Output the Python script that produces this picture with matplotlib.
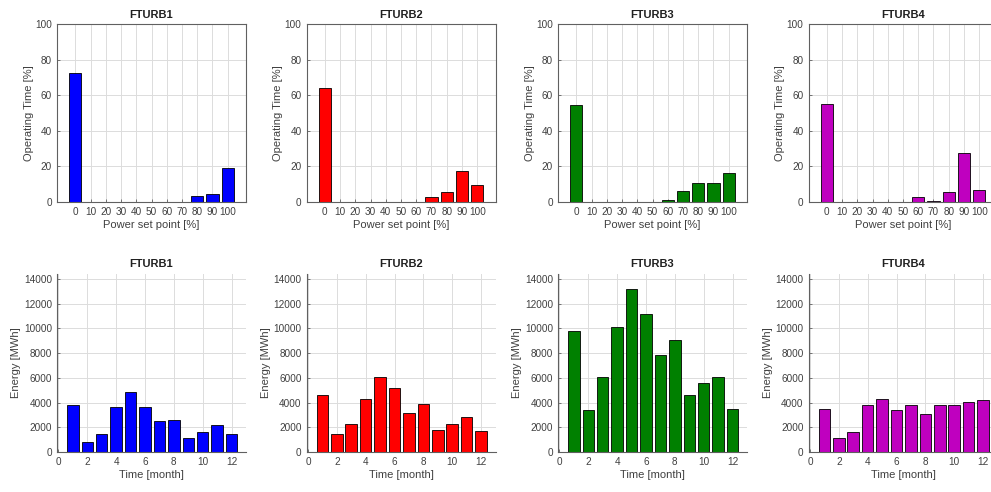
import matplotlib
matplotlib.use("Agg")
import matplotlib.pyplot as plt
import numpy as np

plt.rcParams['font.family'] = ['Liberation Sans', 'DejaVu Sans']

turbines = ["FTURB1", "FTURB2", "FTURB3", "FTURB4"]
colors = ["#0000FF", "#FF0000", "#008000", "#BF00BF"]

setpoints = [0, 10, 20, 30, 40, 50, 60, 70, 80, 90, 100]
optime_1 = [72.7, 0, 0, 0, 0, 0, 0, 0, 3.4, 4.7, 18.9]
optime_2 = [63.9, 0, 0, 0, 0, 0, 0, 3.0, 5.4, 17.4, 9.7]
optime_3 = [54.7, 0, 0, 0, 0, 0, 0.9, 6.4, 10.5, 10.5, 16.5]
optime_4 = [55.1, 0, 0, 0, 0, 0, 3.0, 0.6, 5.4, 27.7, 6.7]
optimes = [optime_1, optime_2, optime_3, optime_4]

months = [1, 2, 3, 4, 5, 6, 7, 8, 9, 10, 11, 12]
energy_1 = [3780, 790, 1490, 3620, 4830, 3620, 2480, 2590, 1110, 1620, 2210, 1490]
energy_2 = [4600, 1480, 2250, 4310, 6050, 5170, 3160, 3880, 1770, 2250, 2810, 1720]
energy_3 = [9750, 3400, 6050, 10100, 13180, 11140, 7870, 9030, 4610, 5600, 6050, 3480]
energy_4 = [3480, 1130, 1580, 3800, 4310, 3430, 3800, 3110, 3800, 3800, 4070, 4200]
energies = [energy_1, energy_2, energy_3, energy_4]

W, H = 991, 492
fig = plt.figure(figsize=(W / 100, H / 100), dpi=100)

lefts = [57, 306.5, 558, 808.5]
aw = 189
top_row = (24, 202)
bot_row = (274, 452)

axcol = "#606060"
txtcol = "#404040"
gridcol = "#DCDCDC"

def style(ax, box=True):
    ax.set_axisbelow(True)
    ax.grid(True, color=gridcol, linewidth=0.7)
    for s in ax.spines.values():
        s.set_color(axcol)
        s.set_linewidth(0.8)
    if not box:
        ax.spines['top'].set_visible(False)
        ax.spines['right'].set_visible(False)
    ax.tick_params(direction='in', length=2, colors=axcol, labelcolor=txtcol,
                   labelsize=7.2, width=0.6)

for i in range(4):
    # top row
    l = lefts[i]
    ax = fig.add_axes([l / W, 1 - top_row[1] / H, aw / W, (top_row[1] - top_row[0]) / H])
    ax.bar(setpoints, optimes[i], width=8, color=colors[i], edgecolor='black', linewidth=0.6)
    ax.set_xlim(-12, 112)
    ax.set_ylim(0, 100)
    ax.set_xticks(setpoints)
    ax.set_yticks([0, 20, 40, 60, 80, 100])
    ax.set_title(turbines[i], fontsize=8, fontweight='bold', color='#202020', pad=4)
    ax.set_xlabel("Power set point [%]", fontsize=8, color=txtcol, labelpad=2)
    ax.set_ylabel("Operating Time [%]", fontsize=8, color=txtcol, labelpad=1)
    style(ax, box=True)

    # bottom row
    ax2 = fig.add_axes([l / W, 1 - bot_row[1] / H, aw / W, (bot_row[1] - bot_row[0]) / H])
    ax2.bar(months, energies[i], width=0.8, color=colors[i], edgecolor='black', linewidth=0.6)
    ax2.set_xlim(-0.1, 13)
    ax2.set_ylim(0, 14400)
    ax2.set_xticks([0, 2, 4, 6, 8, 10, 12])
    ax2.set_yticks(np.arange(0, 14001, 2000))
    ax2.set_title(turbines[i], fontsize=8, fontweight='bold', color='#202020', pad=5)
    ax2.set_xlabel("Time [month]", fontsize=8, color=txtcol, labelpad=2)
    ax2.set_ylabel("Energy [MWh]", fontsize=8, color=txtcol, labelpad=2)
    style(ax2, box=False)

fig.savefig("out.png", dpi=100)
